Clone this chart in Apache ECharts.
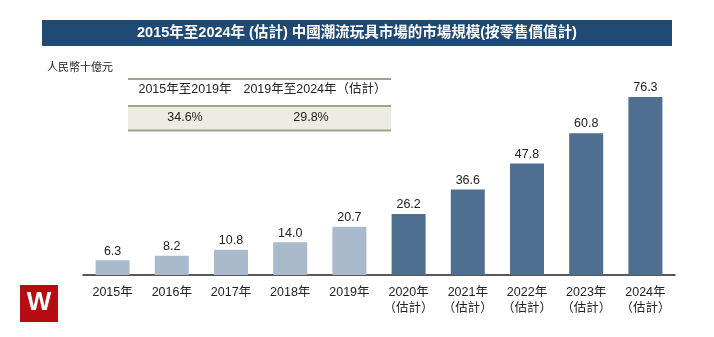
<!DOCTYPE html>
<html><head><meta charset="utf-8">
<script src="https://cdn.jsdelivr.net/npm/echarts@6/dist/echarts.min.js"></script>
<style>html,body{margin:0;padding:0;background:#fff}#c{width:714px;height:337px}</style>
</head><body><div id="c"></div>
<script>
var categories = ['2015年','2016年','2017年','2018年','2019年','2020年\n（估計）','2021年\n（估計）','2022年\n（估計）','2023年\n（估計）','2024年\n（估計）'];
var values = [6.3, 8.2, 10.8, 14.0, 20.7, 26.2, 36.6, 47.8, 60.8, 76.3];
var estimated = [false,false,false,false,false,true,true,true,true,true];
var cagrHeaders = ['2015年至2019年','2019年至2024年（估計）'];
var cagrValues = ['34.6%','29.8%'];
var titleText = '2015年至2024年 (估計) 中國潮流玩具市場的市場規模(按零售價值計)';
var unitText = '人民幣十億元';

var font = 'Liberation Sans, Arial, "Noto Sans CJK TC", sans-serif';
var chart = echarts.init(document.getElementById('c'));
var lineColor = '#A3A18C';
chart.setOption({
  animation:false,
  grid:{left:83, width:592, top:41.7, height:233.3},
  xAxis:{type:'category', data:categories,
    axisLine:{lineStyle:{color:'#222', width:1.5}}, axisTick:{show:false},
    axisLabel:{interval:0, color:'#222', fontSize:12.5, fontFamily:font, margin:10, lineHeight:16}},
  yAxis:{type:'value', min:0, max:100, show:false, splitLine:{show:false}},
  series:[{type:'bar', barWidth:34,
    data: values.map(function(v,i){return {value:v, itemStyle:{color: estimated[i] ? '#4F6F91' : '#A9BACD'}};}),
    label:{show:true, position:'top', distance:3, color:'#222', fontSize:12.5, fontFamily:font,
      formatter:function(p){return p.value.toFixed(1);}}
  }],
  graphic:[
    {type:'rect', shape:{x:42,y:20,width:630,height:26}, style:{fill:'#1F4A73'}},
    {type:'text', x:357, y:33, style:{text:titleText, fill:'#fff', font:'bold 14.5px '+font, textAlign:'center', textVerticalAlign:'middle'}},
    {type:'text', x:47, y:68, style:{text:unitText, fill:'#222', font:'11px '+font, textVerticalAlign:'middle'}},
    {type:'rect', shape:{x:128,y:106,width:263,height:24}, style:{fill:'#EDECE2'}},
    {type:'line', shape:{x1:128,y1:79,x2:391,y2:79}, style:{stroke:lineColor, lineWidth:2}},
    {type:'line', shape:{x1:128,y1:106,x2:391,y2:106}, style:{stroke:lineColor, lineWidth:2}},
    {type:'line', shape:{x1:128,y1:130.5,x2:391,y2:130.5}, style:{stroke:lineColor, lineWidth:2}},
    {type:'text', x:185, y:90, style:{text:cagrHeaders[0], fill:'#222', font:'12.5px '+font, textAlign:'center', textVerticalAlign:'middle'}},
    {type:'text', x:315, y:90, style:{text:cagrHeaders[1], fill:'#222', font:'12.5px '+font, textAlign:'center', textVerticalAlign:'middle'}},
    {type:'text', x:185, y:118, style:{text:cagrValues[0], fill:'#222', font:'12.5px '+font, textAlign:'center', textVerticalAlign:'middle'}},
    {type:'text', x:311, y:118, style:{text:cagrValues[1], fill:'#222', font:'12.5px '+font, textAlign:'center', textVerticalAlign:'middle'}},
    {type:'rect', shape:{x:20,y:285,width:38,height:37}, style:{fill:'#B50D12'}},
    {type:'text', x:39, y:303, style:{text:'W', fill:'#fff', font:'bold 26px '+font, textAlign:'center', textVerticalAlign:'middle'}}
  ]
});
</script></body></html>
